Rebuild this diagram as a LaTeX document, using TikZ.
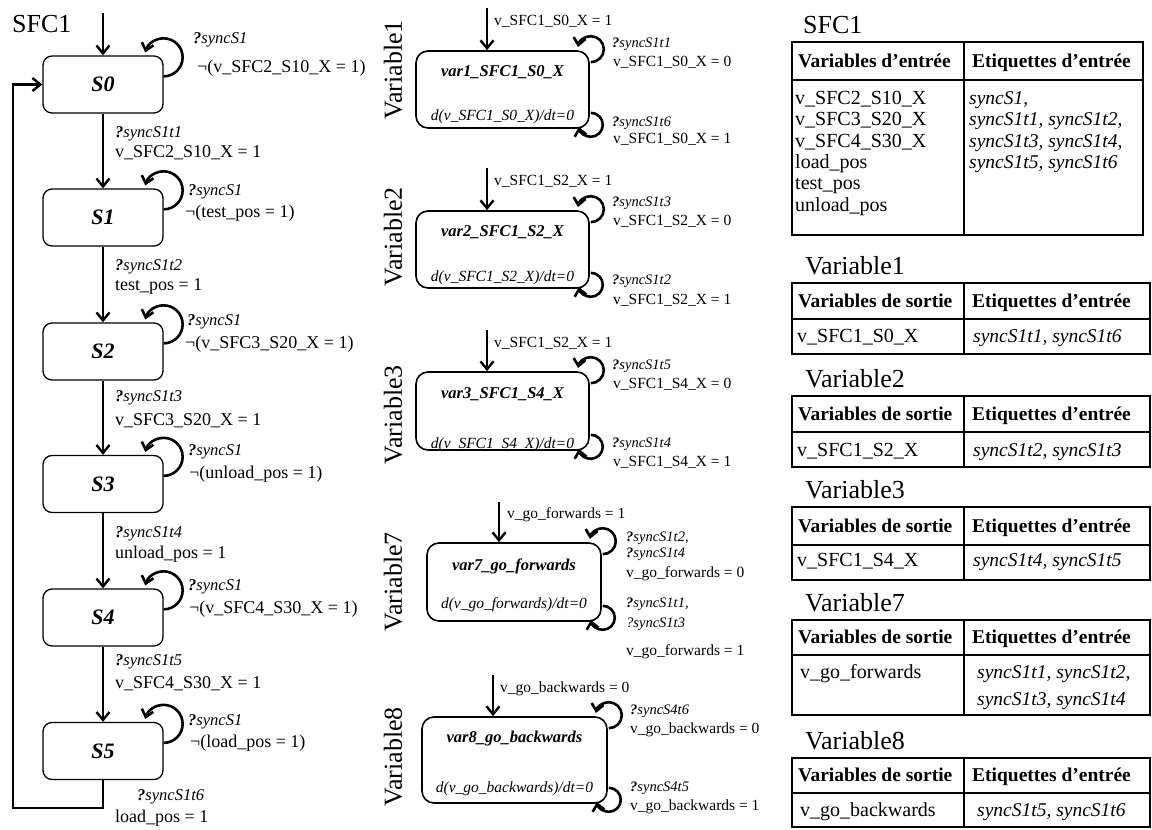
\documentclass[tikz,border=0pt]{standalone}
\usepackage{fontspec}
\setmainfont{Liberation Serif}
\usepackage{tikz}
\usetikzlibrary{arrows.meta, positioning, calc}

\newcommand{\fsz}[1]{\fontsize{#1}{#1}\selectfont}
\newcommand{\rcv}[1]{\textbf{?}#1}

\tikzset{
  txt/.style n args={3}{anchor=west, inner sep=0pt, text height=#2, text depth=0pt, font=\fsz{#1}#3},
  lbl/.style={txt={18}{11.8pt}{}},
  ilbl/.style={txt={16.5}{11pt}{\itshape}},
  mlbl/.style={txt={15.5}{10.2pt}{}},
  milbl/.style={txt={14.5}{9.6pt}{\itshape}},
  tcell/.style={txt={20}{13pt}{}},
  itcell/.style={txt={19.5}{12.8pt}{\itshape}},
  thead/.style={txt={19.5}{12.8pt}{\bfseries}},
  ttl/.style={txt={26}{17pt}{}},
  state/.style={draw, line width=1.3pt, rounded corners=9pt, minimum width=120pt, minimum height=57pt, inner sep=0pt, font=\fsz{22}\bfseries\itshape},
  varbox/.style={draw, line width=1.6pt, rounded corners=12pt, inner sep=0pt},
  vname/.style={inner sep=0pt, text height=11pt, text depth=0pt, font=\fsz{16.5}\bfseries\itshape},
  veq/.style={inner sep=0pt, text height=10.5pt, text depth=0pt, font=\fsz{15.5}\itshape},
  vtitle/.style={inner sep=0pt, rotate=90, font=\fsz{26}},
  trans/.style={line width=2.4pt, -{Straight Barb[length=8pt,width=13pt]}},
  loopar/.style={line width=2.6pt, -{Straight Barb[length=7pt,width=12pt]}},
  tbl/.style={line width=1.4pt}
}

\begin{document}
\begin{tikzpicture}[x=1pt, y=1pt]
  \useasboundingbox (0,0) rectangle (1152,-830);

  % SFC1 chart
  \node[ttl] (sfc) at (12,-24) {SFC1};
  \foreach \i/\y in {0/84.5, 1/217.5, 2/351.5, 3/484, 4/617.5, 5/751}
    \node[state] (s\i) at (103,-\y) {S\i};
  \coordinate (s0in) at (103,-13);
  \draw[trans] (s0in) -- (s0);
  \foreach \i/\j in {0/1, 1/2, 2/3, 3/4, 4/5}
    \draw[trans] (s\i) -- (s\j);
  \foreach \i in {0,...,5}
    \draw[loopar] ([yshift=-21pt]s\i.north east) arc[start angle=-90, end angle=165, radius=19pt];
  \coordinate (back) at (13,-808);
  \draw[trans] (s5.south) |- (back) |- (s0.west);

  \node[ilbl] (l0a) at (193,-38) {\rcv{syncS1}};
  \node[lbl] (l0b) at (197,-67) {¬(v\_SFC2\_S10\_X = 1)};
  \node[ilbl] (l1a) at (188,-190) {\rcv{syncS1}};
  \node[lbl] (l1b) at (185,-212) {¬(test\_pos = 1)};
  \node[ilbl] (l2a) at (187,-320) {\rcv{syncS1}};
  \node[lbl] (l2b) at (185,-343) {¬(v\_SFC3\_S20\_X = 1)};
  \node[ilbl] (l3a) at (188,-450) {\rcv{syncS1}};
  \node[lbl] (l3b) at (189,-473) {¬(unload\_pos = 1)};
  \node[ilbl] (l4a) at (188,-585) {\rcv{syncS1}};
  \node[lbl] (l4b) at (189,-608) {¬(v\_SFC4\_S30\_X = 1)};
  \node[ilbl] (l5a) at (188,-720) {\rcv{syncS1}};
  \node[lbl] (l5b) at (190,-742) {¬(load\_pos = 1)};

  \node[ilbl] (t01a) at (115,-132) {\rcv{syncS1t1}};
  \node[lbl] (t01b) at (115,-152) {v\_SFC2\_S10\_X = 1};
  \node[ilbl] (t12a) at (115,-265) {\rcv{syncS1t2}};
  \node[lbl] (t12b) at (115,-285) {test\_pos = 1};
  \node[ilbl] (t23a) at (115,-396) {\rcv{syncS1t3}};
  \node[lbl] (t23b) at (115,-420) {v\_SFC3\_S20\_X = 1};
  \node[ilbl] (t34a) at (115,-532) {\rcv{syncS1t4}};
  \node[lbl] (t34b) at (115,-553) {unload\_pos = 1};
  \node[ilbl] (t45a) at (115,-660) {\rcv{syncS1t5}};
  \node[lbl] (t45b) at (115,-683) {v\_SFC4\_S30\_X = 1};
  \node[ilbl] (t50a) at (137,-795) {\rcv{syncS1t6}};
  \node[lbl] (t50b) at (115,-817) {load\_pos = 1};

  % variable automata
  \node[vtitle] (mv1) at (393,-70) {Variable1};
  \node[vtitle] (mv2) at (393,-237) {Variable2};
  \node[vtitle] (mv3) at (393,-415) {Variable3};
  \node[vtitle] (mv7) at (393,-582) {Variable7};
  \node[vtitle] (mv8) at (393,-757) {Variable8};

  \node[varbox, minimum width=173pt, minimum height=77pt] (v1) at (502.5,-89.5) {};
  \node[varbox, minimum width=173pt, minimum height=77pt] (v2) at (502.5,-249.5) {};
  \node[varbox, minimum width=173pt, minimum height=78pt] (v3) at (502.5,-411) {};
  \node[varbox, minimum width=174pt, minimum height=78pt] (v7) at (514,-582) {};
  \node[varbox, minimum width=185pt, minimum height=86pt] (v8) at (514.5,-760) {};

  \node[vname] (v1n) at (502.5,-71) {var1\_SFC1\_S0\_X};
  \node[veq] (v1e) at (502.5,-115) {d(v\_SFC1\_S0\_X)/dt=0};
  \node[vname] (v2n) at (502.5,-231) {var2\_SFC1\_S2\_X};
  \node[veq] (v2e) at (502.5,-276) {d(v\_SFC1\_S2\_X)/dt=0};
  \node[vname] (v3n) at (502.5,-393) {var3\_SFC1\_S4\_X};
  \node[veq] (v3e) at (502.5,-443) {d(v\_SFC1\_S4\_X)/dt=0};
  \node[vname] (v7n) at (514,-565) {var7\_go\_forwards};
  \node[veq] (v7e) at (514,-603) {d(v\_go\_forwards)/dt=0};
  \node[vname] (v8n) at (514.5,-737) {var8\_go\_backwards};
  \node[veq] (v8e) at (514.5,-787) {d(v\_go\_backwards)/dt=0};

  \coordinate (v1in) at (487,-8);
  \coordinate (v2in) at (487,-168);
  \coordinate (v3in) at (487,-330);
  \coordinate (v7in) at (499,-502);
  \coordinate (v8in) at (493,-675);
  \foreach \v in {1,2,3,7,8} {
    \draw[trans] (v\v in) -- (v\v in |- v\v.north);
    \draw[loopar] ([xshift=1pt,yshift=-12pt]v\v.north east) arc[start angle=-90, end angle=170, radius=13pt];
    \draw[loopar] ([xshift=1pt,yshift=16pt]v\v.south east) arc[start angle=90, end angle=-170, radius=12pt];
  }

  \node[mlbl] (v1i) at (494,-20) {v\_SFC1\_S0\_X = 1};
  \node[milbl] (v1a) at (612,-43) {\rcv{syncS1t1}};
  \node[mlbl] (v1b) at (613,-61) {v\_SFC1\_S0\_X = 0};
  \node[milbl] (v1c) at (612,-122) {\rcv{syncS1t6}};
  \node[mlbl] (v1d) at (613,-138) {v\_SFC1\_S0\_X = 1};

  \node[mlbl] (v2i) at (494,-180) {v\_SFC1\_S2\_X = 1};
  \node[milbl] (v2a) at (612,-202) {\rcv{syncS1t3}};
  \node[mlbl] (v2b) at (613,-220) {v\_SFC1\_S2\_X = 0};
  \node[milbl] (v2c) at (612,-280) {\rcv{syncS1t2}};
  \node[mlbl] (v2d) at (613,-299) {v\_SFC1\_S2\_X = 1};

  \node[mlbl] (v3i) at (494,-342) {v\_SFC1\_S2\_X = 1};
  \node[milbl] (v3a) at (612,-365) {\rcv{syncS1t5}};
  \node[mlbl] (v3b) at (613,-383) {v\_SFC1\_S4\_X = 0};
  \node[milbl] (v3c) at (612,-443) {\rcv{syncS1t4}};
  \node[mlbl] (v3d) at (613,-461) {v\_SFC1\_S4\_X = 1};

  \node[mlbl] (v7i) at (507,-513) {v\_go\_forwards = 1};
  \node[milbl] (v7a) at (626,-537) {\rcv{syncS1t2},};
  \node[milbl] (v7b) at (626,-553) {\rcv{syncS1t4}};
  \node[mlbl] (v7c) at (626,-572) {v\_go\_forwards = 0};
  \node[milbl] (v7d) at (626,-603) {\rcv{syncS1t1},};
  \node[milbl] (v7e) at (626,-623) {?syncS1t3};
  \node[mlbl] (v7f) at (626,-650) {v\_go\_forwards = 1};

  \node[mlbl] (v8i) at (500,-687) {v\_go\_backwards = 0};
  \node[milbl] (v8a) at (630,-710) {\rcv{syncS4t6}};
  \node[mlbl] (v8b) at (630,-728) {v\_go\_backwards = 0};
  \node[milbl] (v8c) at (630,-787) {\rcv{syncS4t5}};
  \node[mlbl] (v8d) at (630,-805) {v\_go\_backwards = 1};

  % tables
  \node[ttl] (sfct) at (803,-25) {SFC1};
  \draw[tbl] (792,-42) rectangle (1143,-235);
  \draw[tbl] (792,-80) -- (1143,-80);
  \draw[tbl] (964,-42) -- (964,-235);
  \node[thead] (hin) at (798,-61) {Variables d’entrée};
  \node[thead] (hlab) at (972,-61) {Etiquettes d’entrée};
  \foreach \t [count=\i] in {v\_SFC2\_S10\_X, v\_SFC3\_S20\_X, v\_SFC4\_S30\_X, load\_pos, test\_pos, unload\_pos}
    \node[tcell] (in\i) at (795,{-98-21.3*(\i-1)}) {\t};
  \foreach \t [count=\i] in {{syncS1,}, {syncS1t1, syncS1t2,}, {syncS1t3, syncS1t4,}, {syncS1t5, syncS1t6}}
    \node[itcell] (et\i) at (969,{-98-21.3*(\i-1)}) {\t};

  \foreach \ya/\yb/\yc/\n in {283/319/354/1, 396/432/467/2, 507/545/580/3, 620/655/715/7, 758/793/827/8} {
    \node[ttl] (rt\n) at (805,{17-\ya}) {Variable\n};
    \draw[tbl] (792,-\ya) rectangle (1150,-\yc);
    \draw[tbl] (792,-\yb) -- (1150,-\yb);
    \draw[tbl] (964,-\ya) -- (964,-\yc);
    \node[thead] (hv\n) at (798,{-(\ya+\yb)/2}) {Variables de sortie};
    \node[thead] (he\n) at (972,{-(\ya+\yb)/2}) {Etiquettes d’entrée};
  }
  \node[tcell] (o1) at (797,-336) {v\_SFC1\_S0\_X};
  \node[itcell] (e1) at (973,-336) {syncS1t1, syncS1t6};
  \node[tcell] (o2) at (797,-450) {v\_SFC1\_S2\_X};
  \node[itcell] (e2) at (973,-450) {syncS1t2, syncS1t3};
  \node[tcell] (o3) at (797,-560) {v\_SFC1\_S4\_X};
  \node[itcell] (e3) at (973,-560) {syncS1t4, syncS1t5};
  \node[tcell] (o7) at (800,-672) {v\_go\_forwards};
  \node[itcell] (e7a) at (977,-672) {syncS1t1, syncS1t2,};
  \node[itcell] (e7b) at (977,-699) {syncS1t3, syncS1t4};
  \node[tcell] (o8) at (800,-810) {v\_go\_backwards};
  \node[itcell] (e8) at (977,-810) {syncS1t5, syncS1t6};
\end{tikzpicture}
\end{document}
